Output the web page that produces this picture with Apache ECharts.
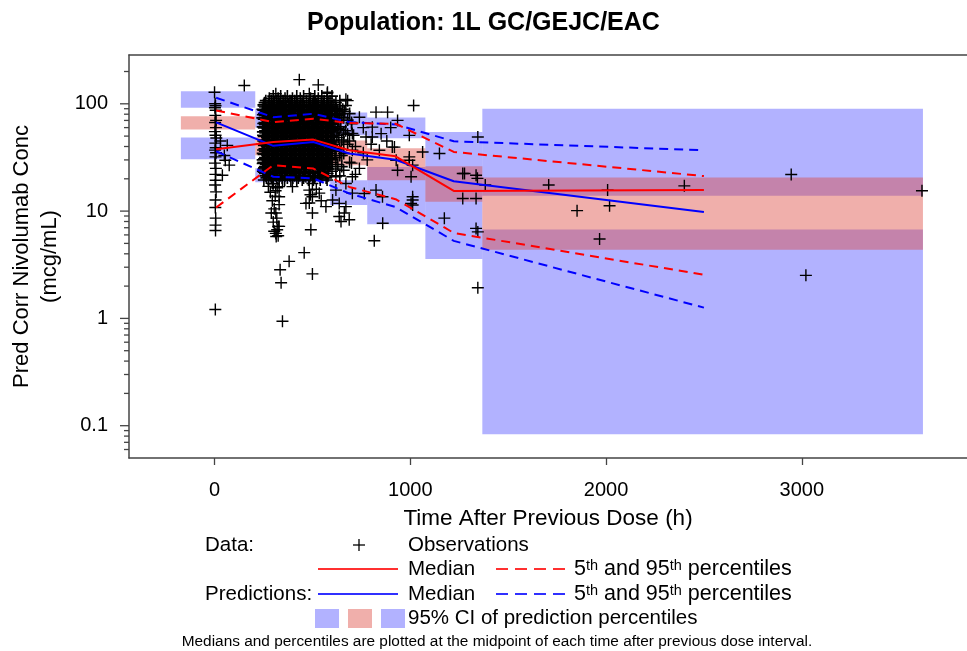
<!DOCTYPE html>
<html><head><meta charset="utf-8">
<script src="https://cdn.jsdelivr.net/npm/echarts@6/dist/echarts.min.js"></script>
<style>html,body{margin:0;padding:0;background:#fff}#c{width:967px;height:651px}</style>
</head><body><div id="c"></div><script>
// ---- data (time after previous dose in h, concentration in mcg/mL) ----
const binEdges = [[-172,208],[208,400],[400,591],[591,780],[780,1077],[1077,1368],[1368,3619]];
const binMid = [8, 300, 505, 688, 925, 1222, 2500];

const obsMedian = [37.7, 44.0, 46.4, 36.9, 32.4, 15.4, 15.7];
const obsP5 = [10.8, 26.8, 24.9, 16.8, 12.9, 6.26, 2.55];
const obsP95 = [86.7, 67.5, 72.6, 66.1, 65.2, 35.6, 21.2];
const predMedian = [67.1, 40.6, 44.0, 34.4, 30.1, 19.0, 9.8];
const predP5 = [36.1, 20.9, 20.2, 14.6, 10.9, 5.28, 1.26];
const predP95 = [114, 75.1, 80.8, 67.5, 64.3, 44.7, 36.9];

// 95% CI of prediction percentiles [low, high]
const ciP95 = [[91.8,131],[60,90],[63,96],[50.8,83],[47.7,74.5],[15.7,54.5],[13.9,89.9]];
const ciMedian = [[57.7,76.7],[33.1,48.7],[37,53],[26.8,45.6],[19.4,38.5],[12.2,26.2],[4.36,20.6]];
const ciP5 = [[30.4,48.4],[18.6,25.1],[18.6,24.1],[11.4,19.4],[7.55,25.7],[3.57,15.7],[0.0832,6.75]];

// observations
const obsBin1 = [[0,128],[3,100],[5,96],[2,92],[6,87],[4,78],[8,70],[3,67],[7,60],[2,55],[5,51],[9,48],[4,43],[6,39],[3,37],[8,35],[5,32],[2,28],[7,25],[4,22],[6,19.4],[3,17.5],[8,15.1],[5,12.7],[4,10.8],[6,8.6],[5,7.4],[5,6.6],[4,1.21],[65,41],[75,26.8],[40,21.6],[55,29.8],[50,33],[30,45],[152,148]];
const obsClusterRows = [
  [118, [300, 338, 372, 420, 455, 512, 548, 600]],
  [112.5, [280, 325, 360, 398, 438, 490, 530, 575]],
  [107, [262, 290, 318, 350, 385, 410, 440, 470, 505, 530, 560, 590, 640]],
  [102.5, [256, 280, 305, 336, 364, 392, 420, 452, 485, 515, 545, 580, 620]],
  [98, [250, 275, 300, 330, 352, 378, 398, 425, 447, 480, 500, 522, 556, 575, 610]],
  [93.5, [258, 282, 305, 325, 346, 368, 390, 414, 438, 460, 487, 510, 530, 552, 580, 600, 640]],
  [89, [245, 266, 288, 312, 335, 356, 381, 402, 428, 451, 470, 494, 517, 540, 566, 588, 620, 655]],
  [85, [262, 286, 309, 332, 354, 376, 400, 425, 447, 470, 494, 517, 540, 563, 590, 615, 665]],
  [81, [252, 276, 297, 320, 344, 365, 390, 413, 436, 458, 482, 506, 529, 552, 574, 600, 640, 690]],
  [77.5, [256, 278, 300, 322, 344, 366, 388, 411, 435, 457, 480, 503, 526, 549, 572, 596, 630]],
  [74, [244, 265, 289, 309, 332, 355, 377, 399, 424, 446, 468, 491, 515, 537, 560, 583, 612, 660]],
  [70.5, [266, 290, 312, 334, 356, 380, 403, 426, 449, 472, 495, 518, 541, 565, 588, 615, 680]],
  [67, [255, 279, 300, 323, 345, 368, 392, 415, 438, 461, 484, 507, 530, 553, 578, 598, 630, 700]],
  [64, [257, 280, 302, 325, 347, 369, 392, 415, 438, 461, 484, 507, 530, 554, 578, 605]],
  [61, [246, 268, 292, 313, 337, 358, 380, 404, 427, 450, 473, 496, 519, 542, 566, 590, 645]],
  [58.5, [270, 292, 314, 337, 360, 383, 406, 429, 452, 475, 498, 521, 544, 568, 592, 630]],
  [56, [258, 281, 303, 326, 349, 372, 395, 418, 441, 463, 487, 510, 533, 556, 580, 605, 670]],
  [53.5, [259, 282, 305, 328, 350, 373, 396, 419, 442, 465, 488, 511, 534, 557, 580, 610, 660]],
  [51, [248, 270, 294, 316, 339, 361, 384, 407, 430, 453, 476, 499, 522, 545, 569, 593, 625, 710]],
  [48.5, [268, 291, 314, 338, 361, 384, 407, 430, 453, 476, 499, 522, 545, 569, 595, 635]],
  [46, [257, 280, 304, 327, 350, 373, 396, 419, 442, 465, 488, 511, 534, 557, 581, 612, 650]],
  [44, [256, 279, 302, 325, 348, 371, 394, 417, 440, 463, 486, 509, 532, 555, 578, 605, 660]],
  [42, [244, 267, 290, 313, 336, 359, 382, 405, 428, 451, 474, 497, 520, 543, 566, 590, 680]],
  [40, [267, 290, 313, 336, 359, 382, 405, 428, 451, 474, 497, 520, 543, 567, 592, 620]],
  [38, [255, 279, 302, 325, 348, 371, 394, 417, 440, 463, 486, 509, 532, 555, 578, 603, 640]],
  [36.2, [257, 280, 303, 326, 349, 372, 395, 418, 441, 464, 487, 510, 533, 557, 583, 615]],
  [34.5, [246, 268, 292, 315, 338, 361, 384, 407, 430, 453, 476, 499, 522, 545, 570, 596, 660]],
  [33, [269, 292, 315, 338, 361, 384, 407, 430, 453, 476, 499, 522, 545, 568, 590, 640]],
  [31.5, [258, 281, 304, 327, 350, 373, 396, 419, 442, 465, 488, 511, 534, 557, 582, 620]],
  [30, [246, 270, 293, 316, 339, 362, 385, 408, 431, 454, 477, 500, 523, 546, 570, 600]],
  [28.5, [249, 272, 295, 318, 341, 364, 387, 410, 433, 456, 479, 502, 525, 548, 574, 600, 690]],
  [27.2, [262, 285, 308, 331, 354, 377, 400, 423, 446, 469, 492, 515, 538, 562, 590, 630]],
  [26, [257, 283, 306, 329, 352, 375, 398, 421, 444, 467, 490, 513, 536, 560, 588, 650]],
  [24.7, [250, 272, 295, 318, 341, 364, 388, 412, 436, 460, 484, 508, 532, 556, 580, 620]],
  [23.5, [247, 270, 296, 320, 344, 368, 392, 416, 440, 464, 488, 512, 536, 565, 600]],
  [22.4, [258, 282, 307, 331, 356, 381, 405, 430, 455, 478, 502, 526, 552, 578]],
  [21.3, [260, 285, 310, 335, 360, 385, 410, 436, 462, 490, 515, 545, 580, 640]],
  [20.4, [265, 290, 318, 345, 372, 400, 428, 455, 485, 512, 540, 570]],
  [19.5, [252, 276, 300, 330, 358, 390, 420, 448, 480, 505, 540, 575]]
];
const obsCoreRows = [
  [95.5, [251, 274, 297, 320, 343, 366, 389, 412, 435, 458, 481, 504, 527, 550, 573, 596]],
  [87, [249, 272, 295, 318, 341, 364, 387, 410, 433, 456, 479, 502, 525, 548, 571, 596, 630]],
  [79, [247, 270, 293, 316, 339, 362, 385, 408, 431, 454, 477, 500, 523, 546, 569, 594, 625]],
  [72, [251, 274, 297, 320, 343, 366, 389, 412, 435, 458, 481, 504, 527, 550, 573, 597]],
  [65.5, [249, 272, 295, 318, 341, 364, 387, 410, 433, 456, 479, 502, 525, 548, 571, 600]],
  [59.7, [252, 275, 298, 321, 344, 367, 390, 413, 436, 459, 482, 505, 528, 551, 574, 598]],
  [54.7, [247, 270, 293, 316, 339, 362, 385, 408, 431, 454, 477, 500, 523, 546, 569, 592]],
  [49.7, [251, 274, 297, 320, 343, 366, 389, 412, 435, 458, 481, 504, 527, 550, 573, 600]],
  [45, [249, 272, 295, 318, 341, 364, 387, 410, 433, 456, 479, 502, 525, 548, 571, 595]],
  [41, [252, 275, 298, 321, 344, 367, 390, 413, 436, 459, 482, 505, 528, 551, 574, 600]],
  [37.1, [248, 271, 294, 317, 340, 363, 386, 409, 432, 455, 478, 501, 524, 547, 570, 593]],
  [33.7, [251, 274, 297, 320, 343, 366, 389, 412, 435, 458, 481, 504, 527, 550, 573]],
  [30.7, [253, 276, 299, 322, 345, 368, 391, 414, 437, 460, 483, 506, 529, 552, 575, 598]],
  [27.8, [246, 269, 292, 315, 338, 361, 384, 407, 430, 453, 476, 499, 522, 545, 568]],
  [25.3, [253, 276, 299, 322, 345, 368, 391, 414, 437, 460, 483, 506, 529, 552, 575]],
  [23, [252, 275, 298, 321, 344, 367, 390, 413, 436, 459, 482, 505, 528, 551]]
];
const obsTop = [[433,168],[530,150],[576,125],[313,124],[484,124],[680,107],[577,128]];
const obsLower = [[300,18],[320,16.5],[285,15],[310,13.8],[295,12.5],[330,11.5],[305,10.5],[290,9.6],[318,8.6],[300,7.9],[325,7.2],[305,6.5],[315,5.8],[313,6.2],[320,6.7],[335,2.84],[340,2.15],[381,3.4],[347,0.94],[458,4.1],[500,2.6],[492,6.7],[500,9.6],[484,11.9],[500,13.6],[535,14.7],[569,11],[467,11.8],[330,13.6],[313,9.6],[330,7.2],[325,5.9],[330,16.9],[296,18.1],[347,19.4],[500,18.1],[484,15.7],[467,20.9],[398,16.9],[275,17],[312,15.5],[520,16],[545,12.5],[490,14.2]];
const obsMid = [[671,110],[671,96.4],[825,83.6],[884,83.6],[1017,96.4],[935,70],[851,52.7],[995,50.8],[919,39.5],[1063,35.5],[1149,34.4],[1345,49],[995,29.8],[935,24],[1277,22.4],[1336,21.6],[637,11.8],[663,9.6],[646,8],[859,7.7],[816,5.3],[1012,13.6],[1004,11.8],[1174,8.6],[1336,6.9],[1345,6.4],[1345,1.93],[1268,13.1],[1336,13.1],[1268,22.4],[1383,17.5],[1343,20.2],[806,60.6],[806,49],[842,36.9],[908,39.5],[928,29.8],[995,32],[1012,26.8],[1004,20.9],[1012,12.7],[1012,11.4],[825,15.7],[858,13.6],[765,14.6],[704,20.9],[671,11],[637,8.9],[688,8.3],[603,12.7],[620,15.7],[704,36.9],[704,53],[740,75],[774,49],[620,20.9],[671,18.1],[704,14.7],[620,90],[650,75],[700,65],[640,58],[690,45],[720,40],[650,33],[700,28],[740,25],[630,70],[760,60],[680,52],[610,42],[660,24],[720,22],[780,30],[800,42],[760,35],[880,45],[900,60]];
const obsLate = [[1707,17.5],[2008,15.7],[1852,10.1],[2018,11.2],[1967,5.5],[2400,17.2],[2946,21.9],[3021,2.52],[3614,15.5]];

const xTickValues = [0, 1000, 2000, 3000];
const yMajorTicks = [0.1, 1, 10, 100];
const yMinorTicks = [0.06,0.07,0.08,0.09,0.2,0.3,0.4,0.5,0.6,0.7,0.8,0.9,2,3,4,5,6,7,8,9,20,30,40,50,60,70,80,90,200];

// ---- build ----
const FONT = '"Liberation Sans", Arial, Helvetica, sans-serif';
const X_MIN = -437, X_MAX = 3844, Y_MIN = 0.05, Y_MAX = 285;
const BLUE_FILL = 'rgba(0,0,255,0.3)';
const PINK_FILL = 'rgba(220,69,60,0.43)';
const LEG = 20.5;

const rowsToPoints = rows => [].concat(...rows.map(r => r[1].map(h => [h, r[0]])));
const observationsSparse = [].concat(obsBin1, obsTop, obsLower, obsMid, obsLate);
const observationsDense = [].concat(rowsToPoints(obsClusterRows), rowsToPoints(obsCoreRows));

function rectSeries(ci, color, z) {
  return {
    type: 'custom', silent: true, z, clip: true,
    encode: {x: [0, 1], y: [2, 3]},
    data: binEdges.map((e, i) => [e[0], e[1], ci[i][0], ci[i][1]]),
    renderItem(params, api) {
      const a = api.coord([api.value(0), api.value(3)]);
      const b = api.coord([api.value(1), api.value(2)]);
      return {type: 'rect', shape: {x: a[0], y: a[1], width: b[0] - a[0], height: b[1] - a[1]}, style: {fill: color}};
    }
  };
}
function lineSeries(vals, color, dashed, z) {
  return {
    type: 'line', silent: true, z, symbol: 'none', animation: false,
    data: binMid.map((x, i) => [x, vals[i]]),
    lineStyle: {color, width: 2, type: dashed ? [9, 6] : 'solid'}
  };
}
function tickSeries(vals, len) {
  return {
    type: 'custom', silent: true, z: 10, clip: false,
    data: vals.map(v => [X_MIN, v]),
    encode: {x: 0, y: 1},
    renderItem(params, api) {
      const p = api.coord([api.value(0), api.value(1)]);
      return {type: 'line', shape: {x1: p[0] - len, y1: p[1], x2: p[0], y2: p[1]}, style: {stroke: '#444', lineWidth: 1.3}};
    }
  };
}
const crossPath = 'path://M0,5L10,5M5,0L5,10';
function obsSeries(data, bw) {
  return {
    type: 'scatter', z: 3, silent: true, data,
    symbol: crossPath, symbolSize: 12,
    itemStyle: {color: 'rgba(0,0,0,0)', borderColor: '#000', borderWidth: bw, opacity: 1}
  };
}

const leg = [];
function txt(x, y, text, size, extra) {
  leg.push({type: 'text', x, y, style: Object.assign({text, fill: '#000', font: size + 'px ' + FONT, align: 'left', verticalAlign: 'middle', textAlign: 'left', textVerticalAlign: 'middle'}, extra || {})});
}
function seg(x1, x2, y, color, dashed) {
  leg.push({type: 'line', shape: {x1, y1: y, x2, y2: y}, style: {stroke: color, lineWidth: 2, lineDash: dashed ? [12, 7] : null}});
}
const supRich = {s: {fontSize: 14.5, fontFamily: FONT, verticalAlign: 'top', lineHeight: 21}, n: {fontSize: 21.5, fontFamily: FONT, lineHeight: 21}};
txt(205, 545, 'Data:', LEG);
leg.push({type: 'line', shape: {x1: 353, y1: 545, x2: 365, y2: 545}, style: {stroke: '#000', lineWidth: 1.3}});
leg.push({type: 'line', shape: {x1: 359, y1: 539, x2: 359, y2: 551}, style: {stroke: '#000', lineWidth: 1.3}});
txt(408, 545, 'Observations', LEG);
seg(318, 398, 569, '#ff3030', false);
txt(408, 569, 'Median', LEG);
seg(496, 568, 569, '#ff3030', true);
txt(574, 569, '{n|5}{s|th}{n| and 95}{s|th}{n| percentiles}', LEG, {rich: supRich});
txt(205, 594, 'Predictions:', LEG);
seg(318, 398, 594, '#3030ff', false);
txt(408, 594, 'Median', LEG);
seg(496, 568, 594, '#3030ff', true);
txt(574, 594, '{n|5}{s|th}{n| and 95}{s|th}{n| percentiles}', LEG, {rich: supRich});
leg.push({type: 'rect', shape: {x: 315, y: 609, width: 24, height: 19}, style: {fill: BLUE_FILL}});
leg.push({type: 'rect', shape: {x: 348, y: 609, width: 24, height: 19}, style: {fill: PINK_FILL}});
leg.push({type: 'rect', shape: {x: 381, y: 609, width: 24, height: 19}, style: {fill: BLUE_FILL}});
txt(408, 618, '95% CI of prediction percentiles', LEG);
txt(497, 642, 'Medians and percentiles are plotted at the midpoint of each time after previous dose interval.', 15.4, {align: 'center', textAlign: 'center'});

const chart = echarts.init(document.getElementById('c'), null, {renderer: 'canvas'});
chart.setOption({
  animation: false,
  backgroundColor: '#fff',
  title: {text: 'Population: 1L GC/GEJC/EAC', left: 'center', top: 6,
    textStyle: {fontFamily: FONT, fontSize: 25, fontWeight: 'bold', color: '#000'}},
  grid: {left: 129, right: 0, top: 55, bottom: 193, containLabel: false, outerBoundsMode: 'none'},
  xAxis: [{
    type: 'value', min: X_MIN, max: X_MAX, position: 'bottom',
    axisLine: {show: true, onZero: false, lineStyle: {color: '#444', width: 1.5}},
    axisTick: {show: true, customValues: xTickValues, length: 7, lineStyle: {color: '#444', width: 1.3}},
    axisLabel: {customValues: xTickValues, fontFamily: FONT, fontSize: 20, color: '#000', margin: 22, formatter: v => String(v)},
    splitLine: {show: false},
    name: 'Time After Previous Dose (h)', nameLocation: 'middle', nameGap: 49,
    nameTextStyle: {fontFamily: FONT, fontSize: 22.5, color: '#000'}
  }, {
    type: 'value', min: X_MIN, max: X_MAX, position: 'top',
    axisLine: {show: true, onZero: false, lineStyle: {color: '#444', width: 1.5}},
    axisTick: {show: false}, axisLabel: {show: false}, splitLine: {show: false}
  }],
  yAxis: [{
    type: 'log', logBase: 10, min: Y_MIN, max: Y_MAX, position: 'left',
    axisLine: {show: true, onZero: false, lineStyle: {color: '#444', width: 1.5}},
    axisTick: {show: false},
    axisLabel: {fontFamily: FONT, fontSize: 20, color: '#000', margin: 21, showMinLabel: false, showMaxLabel: false,
      formatter: v => String(v)},
    splitLine: {show: false}, minorTick: {show: false},
    name: 'Pred Corr Nivolumab Conc\n(mcg/mL)', nameLocation: 'middle', nameGap: 63, nameRotate: 90,
    nameTextStyle: {fontFamily: FONT, fontSize: 22, color: '#000', lineHeight: 28}
  }],
  series: [
    rectSeries(ciP95, BLUE_FILL, 1),
    rectSeries(ciP5, BLUE_FILL, 1),
    rectSeries(ciMedian, PINK_FILL, 2),
    obsSeries(observationsDense, 1.6),
    obsSeries(observationsSparse, 1.4),
    lineSeries(predP95, '#0000ff', true, 4),
    lineSeries(predP5, '#0000ff', true, 4),
    lineSeries(predMedian, '#0000ff', false, 4),
    lineSeries(obsP95, '#ff0000', true, 5),
    lineSeries(obsP5, '#ff0000', true, 5),
    lineSeries(obsMedian, '#ff0000', false, 5),
    tickSeries(yMajorTicks, 9),
    tickSeries(yMinorTicks, 5)
  ],
  graphic: leg
});
</script></body></html>
